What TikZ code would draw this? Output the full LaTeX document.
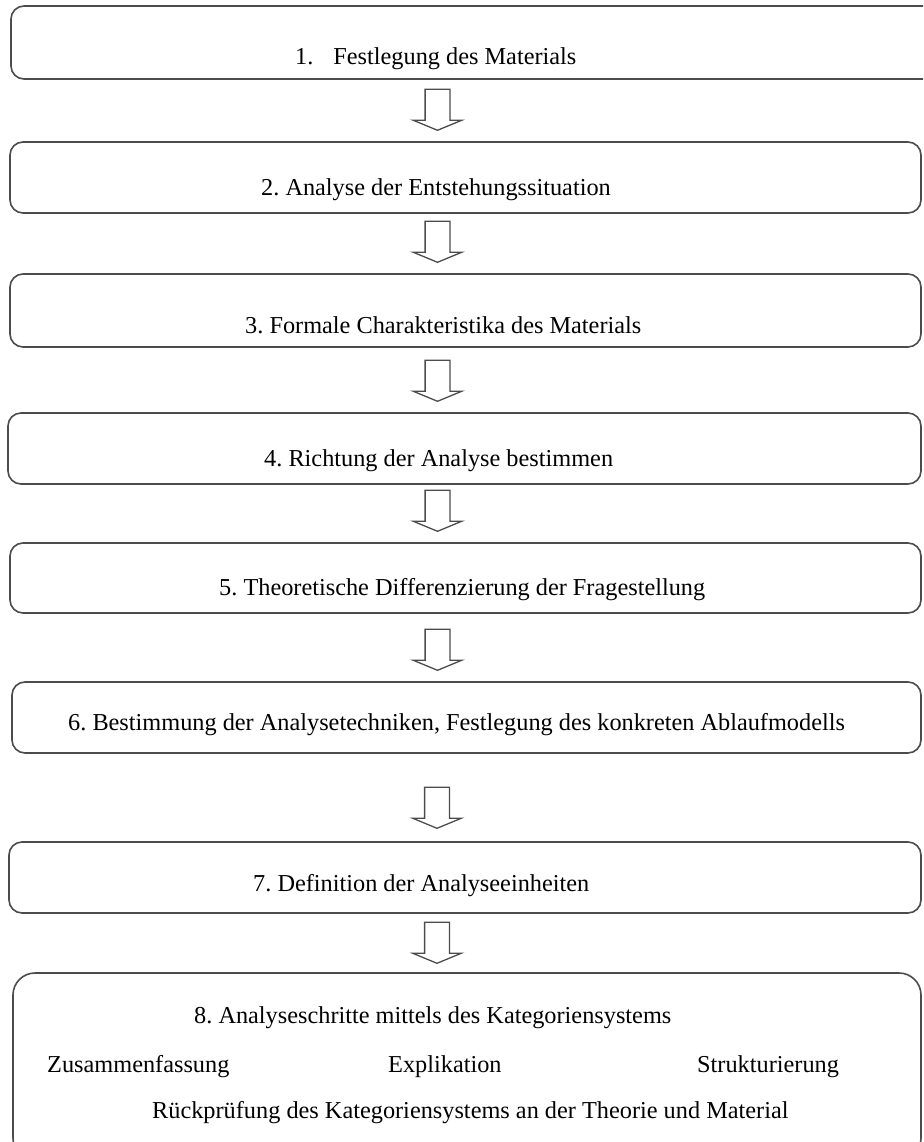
\documentclass[tikz,border=0pt]{standalone}
\usepackage{fontspec}
\setmainfont{Liberation Serif}
\usetikzlibrary{shapes.arrows}
\frenchspacing
\tikzset{x=1pt, y=-1pt,
    stepbox/.style={rectangle, draw=black!70, line width=1.6pt,
        rounded corners=13pt, inner sep=0pt},
    steptext/.style={anchor=base west, inner sep=0pt,
        font=\fontsize{24.3}{29}\selectfont},
    downarrow/.style={single arrow, draw=black!70, line width=1.3pt,
        shape border rotate=270, minimum height=41pt,
        single arrow head extend=11.75pt, single arrow tip angle=135,
        inner sep=11.75pt, anchor=tip},
    }
\begin{document}
\begin{tikzpicture}
\useasboundingbox (0,0) rectangle (923,1142);
\clip (0,0) rectangle (923,1142);
% boxes
\node[stepbox, minimum width=929pt, minimum height=73pt] (b1) at (475.5,42.5) {};
\node[stepbox, minimum width=911pt, minimum height=71pt] (b2) at (465.5,177.5) {};
\node[stepbox, minimum width=911pt, minimum height=73pt] (b3) at (465.5,310.5) {};
\node[stepbox, minimum width=913pt, minimum height=71pt] (b4) at (464.5,448.5) {};
\node[stepbox, minimum width=911pt, minimum height=70pt] (b5) at (465.5,578) {};
\node[stepbox, minimum width=909pt, minimum height=71pt] (b6) at (466.5,717.5) {};
\node[stepbox, minimum width=912pt, minimum height=71pt] (b7) at (465,877.5) {};
\node[stepbox, rounded corners=22pt, minimum width=908pt, minimum height=187pt] (b8) at (467,1066.5) {};
% texts
\node[steptext] (t1) at (295,65) {1.\hspace{20pt}Festlegung des Materials};
\node[steptext] (t2) at (261,195) {2. Analyse der Entstehungssituation};
\node[steptext] (t3) at (245,333) {3. Formale Charakteristika des Materials};
\node[steptext] (t4) at (264,466) {4. Richtung der Analyse bestimmen};
\node[steptext] (t5) at (219,595) {5. Theoretische Differenzierung der Fragestellung};
\node[steptext] (t6) at (68,730) {6. Bestimmung der Analysetechniken, Festlegung des konkreten Ablaufmodells};
\node[steptext] (t7) at (253,891) {7. Definition der Analyseeinheiten};
\node[steptext] (t8) at (194,1023) {8. Analyseschritte mittels des Kategoriensystems};
\node[steptext] (zus) at (47,1072) {Zusammenfassung};
\node[steptext] (exp) at (388,1072) {Explikation};
\node[steptext] (str) at (697,1072) {Strukturierung};
\node[steptext] (rue) at (152,1118) {Rückprüfung des Kategoriensystems an der Theorie und Material};
% arrows
\node[downarrow] (a1) at (437.5,131) {};
\node[downarrow] (a2) at (437.5,263) {};
\node[downarrow] (a3) at (437.5,402) {};
\node[downarrow] (a4) at (437.5,532) {};
\node[downarrow] (a5) at (437.5,671) {};
\node[downarrow] (a6) at (437,829) {};
\node[downarrow] (a7) at (437,964) {};
\end{tikzpicture}
\end{document}
